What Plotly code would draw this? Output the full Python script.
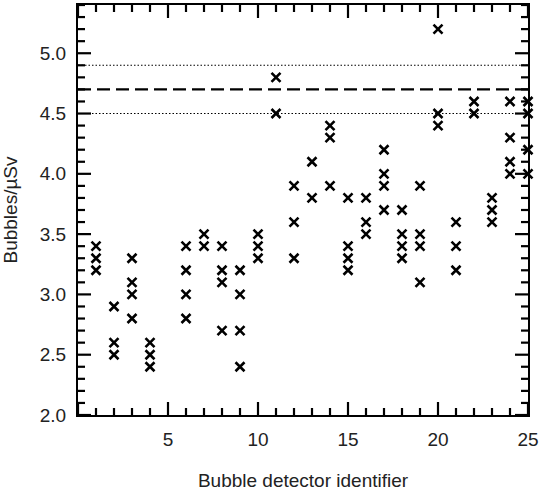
import plotly.graph_objects as go

detector_ids = list(range(1, 26))
bubbles_per_usv = [
    [3.4, 3.3, 3.2],          # 1
    [2.9, 2.6, 2.5],          # 2
    [3.3, 3.1, 3.0, 2.8],     # 3
    [2.6, 2.5, 2.4],          # 4
    [],                       # 5
    [3.4, 3.2, 3.0, 2.8],     # 6
    [3.5, 3.4],               # 7
    [3.4, 3.2, 3.1, 2.7],     # 8
    [3.2, 3.0, 2.7, 2.4],     # 9
    [3.5, 3.4, 3.3],          # 10
    [4.8, 4.5],               # 11
    [3.9, 3.6, 3.3],          # 12
    [4.1, 3.8],               # 13
    [4.4, 4.3, 3.9],          # 14
    [3.8, 3.4, 3.3, 3.2],     # 15
    [3.8, 3.6, 3.5],          # 16
    [4.2, 4.0, 3.9, 3.7],     # 17
    [3.7, 3.5, 3.4, 3.3],     # 18
    [3.9, 3.5, 3.4, 3.1],     # 19
    [5.2, 4.5, 4.4],          # 20
    [3.6, 3.4, 3.2],          # 21
    [4.6, 4.5],               # 22
    [3.8, 3.7, 3.6],          # 23
    [4.6, 4.3, 4.1, 4.0],     # 24
    [4.6, 4.5, 4.2, 4.0],     # 25
]
mean_line = [4.7]
bound_lines = [4.9, 4.5]
x_tick_vals = [5, 10, 15, 20, 25]
x_major_ticks = [0, 5, 10, 15, 20, 25]
x_minor_ticks = list(range(0, 26))
y_major_ticks = [2.0, 2.5, 3.0, 3.5, 4.0, 4.5, 5.0]
y_minor_ticks = [round(2.0 + 0.1 * i, 1) for i in range(0, 35)]
x_range = [0, 25]
y_range = [2.0, 5.4]

xs, ys = [], []
for d, vals in zip(detector_ids, bubbles_per_usv):
    for v in vals:
        xs.append(d)
        ys.append(v)

W, H = 540, 491
M = dict(l=78, r=12, t=5, b=76)
plot_w = W - M["l"] - M["r"]
plot_h = H - M["t"] - M["b"]
major_len, minor_len = 13, 7

font_family = "Liberation Sans, Arial, Helvetica, sans-serif"
text_color = "#222"

fig = go.Figure()
fig.add_trace(go.Scatter(
    x=xs, y=ys, mode="markers",
    marker=dict(symbol="x-thin-open", size=9, color="black",
                line=dict(width=2.6, color="black")),
    showlegend=False, cliponaxis=False, hoverinfo="skip",
))

shapes = []
for yv in mean_line:
    shapes.append(dict(type="line", xref="paper", x0=0, x1=1, yref="y", y0=yv, y1=yv,
                       line=dict(color="black", width=2.4, dash="13px,6px"), layer="below"))
for yv in bound_lines:
    shapes.append(dict(type="line", xref="paper", x0=0, x1=1, yref="y", y0=yv, y1=yv,
                       line=dict(color="black", width=1.1, dash="1.5px,2px"), layer="below"))

tick_line = dict(color="black", width=2.2)
# x-axis ticks (inside, mirrored on top)
for xv in x_minor_ticks:
    L = (major_len if xv in x_major_ticks else minor_len) / plot_h
    shapes.append(dict(type="line", xref="x", yref="paper", x0=xv, x1=xv, y0=0, y1=L,
                       line=tick_line, layer="above"))
    shapes.append(dict(type="line", xref="x", yref="paper", x0=xv, x1=xv, y0=1, y1=1 - L,
                       line=tick_line, layer="above"))
# y-axis ticks (inside, mirrored on right)
for yv in y_minor_ticks:
    L = (major_len if yv in y_major_ticks else minor_len) / plot_w
    shapes.append(dict(type="line", xref="paper", yref="y", x0=0, x1=L, y0=yv, y1=yv,
                       line=tick_line, layer="above"))
    shapes.append(dict(type="line", xref="paper", yref="y", x0=1, x1=1 - L, y0=yv, y1=yv,
                       line=tick_line, layer="above"))

axis_common = dict(
    showline=True, linecolor="black", linewidth=2, mirror=True,
    ticks="", showgrid=False, zeroline=False, automargin=False,
    tickfont=dict(family=font_family, size=19, color=text_color),
)

fig.update_layout(
    width=W, height=H,
    margin=M,
    paper_bgcolor="white", plot_bgcolor="white",
    shapes=shapes,
    font=dict(family=font_family, color=text_color),
    xaxis=dict(
        range=x_range, tickvals=x_tick_vals, ticklabelstandoff=6,
        title=dict(text="Bubble detector identifier",
                   font=dict(size=19, family=font_family, color=text_color), standoff=31),
        **axis_common,
    ),
    yaxis=dict(
        range=y_range, tickvals=y_major_ticks, tickformat=".1f", ticklabelstandoff=6,
        title=dict(text="Bubbles/µSv",
                   font=dict(size=19, family=font_family, color=text_color), standoff=20),
        **axis_common,
    ),
)

fig.write_html("out.html", post_script="document.body.style.margin='0px';",
               config={"displayModeBar": False})
